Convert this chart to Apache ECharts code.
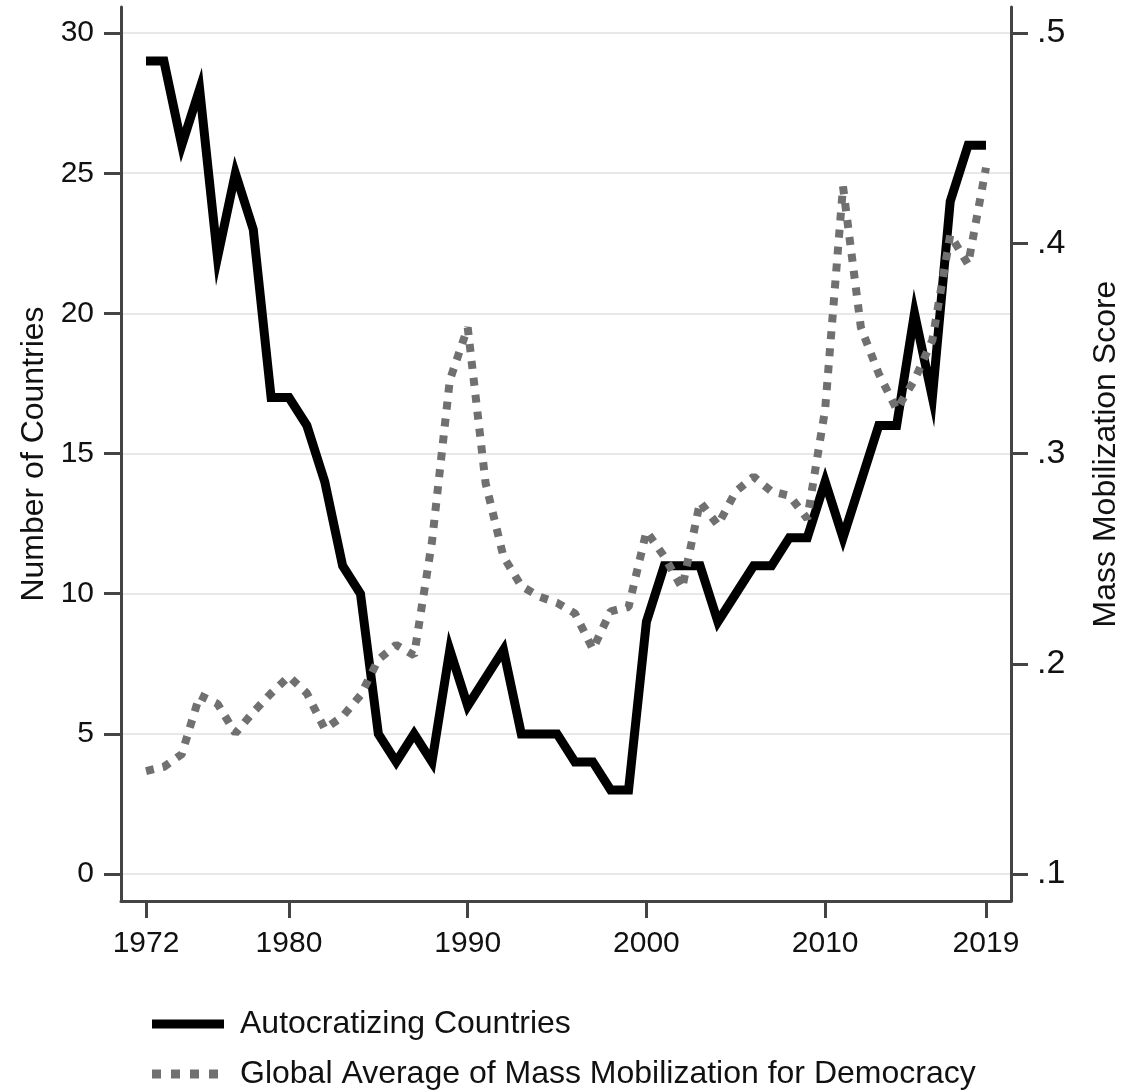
<!DOCTYPE html>
<html>
<head>
<meta charset="utf-8">
<script src="https://cdn.jsdelivr.net/npm/echarts@6.0.0/dist/echarts.min.js"></script>
<style>
  html, body { margin: 0; padding: 0; background: #fff; }
  #chart { width: 1132px; height: 1092px; }
</style>
</head>
<body>
<div id="chart"></div>
<script>
// years on the x axis
const years = [1972, 1973, 1974, 1975, 1976, 1977, 1978, 1979, 1980, 1981,
  1982, 1983, 1984, 1985, 1986, 1987, 1988, 1989, 1990, 1991,
  1992, 1993, 1994, 1995, 1996, 1997, 1998, 1999, 2000, 2001,
  2002, 2003, 2004, 2005, 2006, 2007, 2008, 2009, 2010, 2011,
  2012, 2013, 2014, 2015, 2016, 2017, 2018, 2019];

// number of autocratizing countries (left axis)
const autocratizing = [29, 29, 26, 28, 22, 25, 23, 17, 17, 16,
  14, 11, 10, 5, 4, 5, 4, 8, 6, 7,
  8, 5, 5, 5, 4, 4, 3, 3, 9, 11,
  11, 11, 9, 10, 11, 11, 12, 12, 14, 12,
  14, 16, 16, 20, 17, 24, 26, 26];

// global average of mass mobilization for democracy (right axis)
const mobilization = [0.149, 0.151, 0.157, 0.185, 0.181, 0.167, 0.177, 0.186, 0.194, 0.186,
  0.169, 0.175, 0.185, 0.202, 0.209, 0.204, 0.258, 0.335, 0.360, 0.286,
  0.251, 0.237, 0.232, 0.229, 0.224, 0.207, 0.225, 0.227, 0.263, 0.251,
  0.236, 0.277, 0.266, 0.282, 0.289, 0.282, 0.280, 0.269, 0.321, 0.427,
  0.360, 0.338, 0.321, 0.335, 0.354, 0.404, 0.390, 0.436];

const xTicks = [1972, 1980, 1990, 2000, 2010, 2019];
const leftTicks = [0, 5, 10, 15, 20, 25, 30];
const rightTicks = [0.1, 0.2, 0.3, 0.4, 0.5];

const FONT = "'Liberation Sans', Arial, Helvetica, sans-serif";
const AXIS_COLOR = '#444';
const SERIES_A = 'Autocratizing Countries';
const SERIES_B = 'Global Average of Mass Mobilization for Democracy';

let chart = echarts.init(document.getElementById('chart'), null, { renderer: 'canvas' });

const axisLine = { show: true, onZero: false, lineStyle: { color: AXIS_COLOR, width: 3 } };
const tickStyle = { color: AXIS_COLOR, width: 3 };

// one legend box per row so the two keys stack like the original
function legendRow(name, top, icon, w, pad) {
    return {
        orient: 'vertical',
        left: 152,
        top: top,
        padding: 0,
        itemWidth: w,
        itemHeight: 9,
        icon: icon,
        textStyle: { fontSize: 32, color: '#111', fontFamily: FONT, padding: [0, 0, 0, pad] },
        data: [name]
    };
}

chart.setOption({
    animation: false,
    textStyle: { fontFamily: FONT },
    grid: { left: 121, right: 121, top: 7, bottom: 191 },
    legend: [
        legendRow(SERIES_A, 1008, 'path://M0,0H72V9H0Z', 72, 11),
        legendRow(SERIES_B, 1058, 'path://M0,0H9V9H0Z M19,0H28V9H19Z M38,0H47V9H38Z M57,0H66V9H57Z', 66, 17)
    ],
    xAxis: {
        type: 'value',
        min: 1970.6,
        max: 2020.4,
        axisLine: axisLine,
        axisTick: { show: true, length: 17, lineStyle: tickStyle, customValues: xTicks },
        axisLabel: {
            customValues: xTicks, margin: 28, fontSize: 30, color: '#111', fontFamily: FONT,
            formatter: v => String(v)
        },
        splitLine: { show: false }
    },
    yAxis: [
        {
            type: 'value',
            position: 'left',
            min: -0.96,
            max: 30.93,
            name: 'Number of Countries',
            nameLocation: 'middle',
            nameGap: 70,
            nameTextStyle: { fontSize: 32, color: '#111', fontFamily: FONT },
            axisLine: axisLine,
            axisTick: { show: true, length: 17, lineStyle: tickStyle, customValues: leftTicks },
            axisLabel: { customValues: leftTicks, margin: 27, fontSize: 30, color: '#111', fontFamily: FONT },
            splitLine: { show: true, lineStyle: { color: '#e8e8e8', width: 2 } }
        },
        {
            type: 'value',
            position: 'right',
            min: 0.1 - 0.96 / 75,
            max: 0.1 + 30.93 / 75,
            name: 'Mass Mobilization Score',
            nameLocation: 'middle',
            nameGap: 79,
            nameTextStyle: { fontSize: 32, color: '#111', fontFamily: FONT },
            axisLine: axisLine,
            axisTick: { show: true, length: 17, lineStyle: tickStyle, customValues: rightTicks },
            axisLabel: {
                customValues: rightTicks, margin: 26, fontSize: 34, color: '#111', fontFamily: FONT,
                formatter: v => String(Math.round(v * 10) / 10).replace(/^0/, '')
            },
            splitLine: { show: false }
        }
    ],
    series: [
        {
            name: SERIES_A,
            type: 'line',
            yAxisIndex: 0,
            symbol: 'none',
            data: years.map((y, i) => [y, autocratizing[i]]),
            itemStyle: { color: '#000' },
            lineStyle: { color: '#000', width: 9, join: 'miter' }
        },
        {
            name: SERIES_B,
            type: 'line',
            yAxisIndex: 1,
            symbol: 'none',
            data: years.map((y, i) => [y, mobilization[i]]),
            itemStyle: { color: '#707070' },
            lineStyle: { color: '#707070', width: 8, type: [8, 9], cap: 'butt' }
        }
    ]
});
</script>
</body>
</html>
